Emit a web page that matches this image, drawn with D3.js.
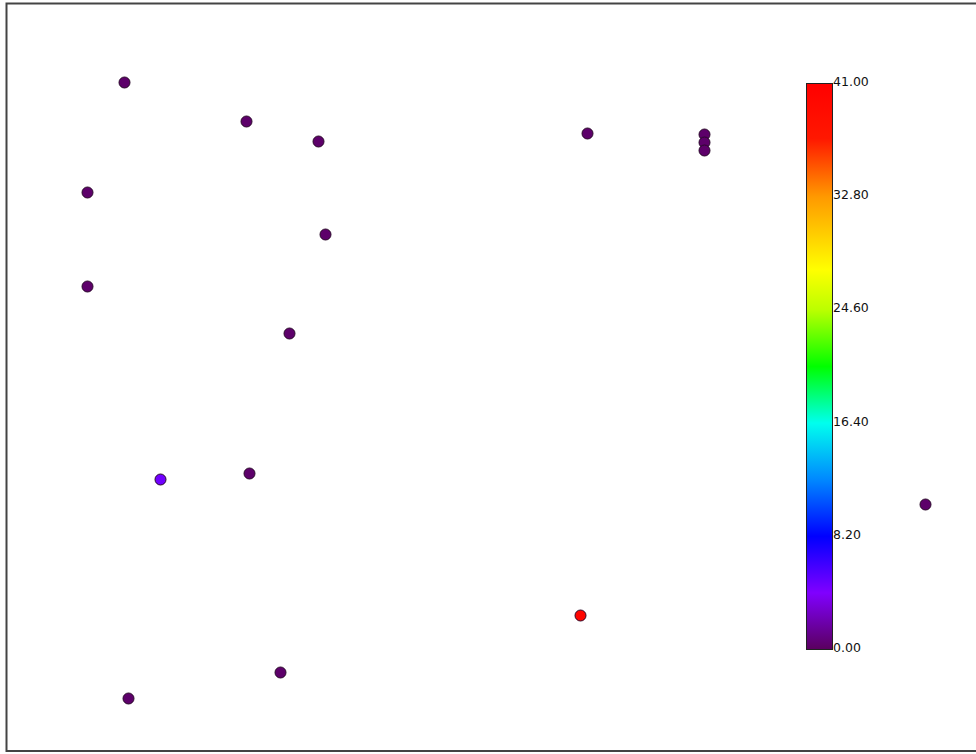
<!DOCTYPE html>
<html><head><meta charset="utf-8">
<script src="https://cdn.jsdelivr.net/npm/d3@7"></script>
<style>html,body{margin:0;padding:0;background:#fff;overflow:hidden}</style>
</head><body>
<svg id="chart" width="976" height="754"></svg>
<script>
// Sample locations (map units) and measured values
const xs = [118, 240, 312, 81, 319, 81, 283, 154, 243, 581, 698, 698, 698, 919, 574, 274, 122];
const ys = [669, 630, 610, 559, 517, 465, 418, 272, 278, 618, 617, 609, 601, 247, 136, 79, 53];
const vals = [0.3, 0.3, 0.3, 0.3, 0.3, 0.3, 0.3, 4.6, 0.3, 0.3, 0.3, 0.3, 0.3, 0.3, 40.2, 0.3, 0.3];
const colorTicks = [0, 8.2, 16.4, 24.6, 32.8, 41];
const colorStopVals = [0, 4.1, 8.2, 12.3, 16.4, 20.5, 24.6, 27.5, 32.8, 37, 41];
const colorStopCols = ["#5a005e", "#8000ff", "#0000ff", "#0088ff", "#00ffee", "#00ff00", "#bbff00", "#ffff00", "#ff9900", "#ff1800", "#ff0000"];

const svg = d3.select("#chart");
const x = d3.scaleLinear().domain([0, 970]).range([6.5, 976.5]);
const y = d3.scaleLinear().domain([0, 748]).range([751.5, 3.5]);
const color = d3.scaleLinear().domain(colorStopVals).range(colorStopCols).interpolate(d3.interpolateRgb);

// frame
svg.append("path").attr("d", "M980,3.5H6.5V751H980")
  .attr("fill", "none").attr("stroke", "#444").attr("stroke-width", 2);

const pts = xs.map((d, i) => ({x: d, y: ys[i], v: vals[i]}));
svg.append("g").selectAll("circle").data(pts).join("circle")
  .attr("cx", d => x(d.x)).attr("cy", d => y(d.y)).attr("r", 5.5)
  .attr("fill", d => color(d.v)).attr("stroke", "#2a0a2a").attr("stroke-width", 1);

// colour bar
const cb = d3.scaleLinear().domain([0, 41]).range([649, 83]);
const defs = svg.append("defs");
const grad = defs.append("linearGradient").attr("id", "cbgrad")
  .attr("x1", 0).attr("y1", 1).attr("x2", 0).attr("y2", 0);
grad.selectAll("stop").data(colorStopVals).join("stop")
  .attr("offset", d => d / 41).attr("stop-color", d => color(d));
svg.append("rect").attr("x", 806.5).attr("y", cb(41) + 0.5).attr("width", 26)
  .attr("height", cb(0) - cb(41)).attr("fill", "url(#cbgrad)")
  .attr("stroke", "#222").attr("stroke-width", 1);
svg.append("g").selectAll("text").data(colorTicks).join("text")
  .attr("x", 833).attr("y", d => cb(d) - 0.5)
  .attr("dominant-baseline", "middle")
  .attr("font-family", "DejaVu Sans, sans-serif").attr("font-size", 12.5)
  .attr("fill", "#111").text(d => d3.format(".2f")(d));
</script>
</body></html>
